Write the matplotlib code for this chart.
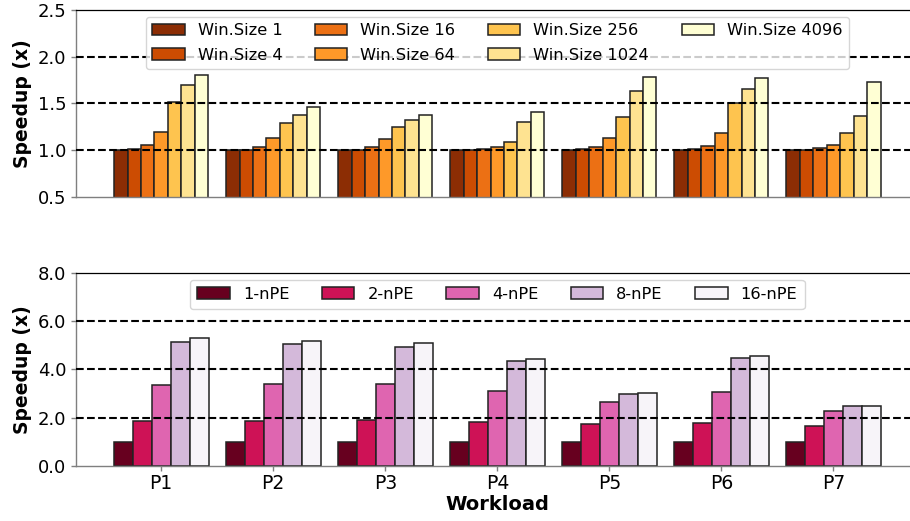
import matplotlib
matplotlib.use("Agg")
import matplotlib.pyplot as plt
import numpy as np

workloads = ["P1", "P2", "P3", "P4", "P5", "P6", "P7"]

# Speedup vs. window size
win_labels = ["Win.Size 1", "Win.Size 4", "Win.Size 16", "Win.Size 64",
              "Win.Size 256", "Win.Size 1024", "Win.Size 4096"]
win_speedup = [
    [1.00, 1.00, 1.00, 1.00, 1.00, 1.00, 1.00],   # Win.Size 1
    [1.01, 1.00, 1.00, 1.00, 1.01, 1.01, 1.00],   # Win.Size 4
    [1.06, 1.04, 1.03, 1.01, 1.04, 1.05, 1.02],   # Win.Size 16
    [1.20, 1.13, 1.12, 1.03, 1.13, 1.18, 1.06],   # Win.Size 64
    [1.52, 1.29, 1.25, 1.09, 1.36, 1.50, 1.18],   # Win.Size 256
    [1.70, 1.38, 1.32, 1.30, 1.63, 1.66, 1.37],   # Win.Size 1024
    [1.80, 1.46, 1.38, 1.41, 1.78, 1.77, 1.73],   # Win.Size 4096
]
win_colors = ["#8c2d04", "#cc4c02", "#ec7014", "#fe9929",
              "#fec44f", "#fee391", "#ffffd4"]

# Speedup vs. number of PEs
pe_labels = ["1-nPE", "2-nPE", "4-nPE", "8-nPE", "16-nPE"]
pe_speedup = [
    [1.00, 1.00, 1.00, 1.00, 1.00, 1.00, 1.00],   # 1-nPE
    [1.88, 1.88, 1.89, 1.81, 1.75, 1.79, 1.66],   # 2-nPE
    [3.35, 3.39, 3.39, 3.10, 2.65, 3.05, 2.26],   # 4-nPE
    [5.14, 5.06, 4.94, 4.36, 3.00, 4.47, 2.47],   # 8-nPE
    [5.31, 5.20, 5.09, 4.44, 3.03, 4.55, 2.47],   # 16-nPE
]
pe_colors = ["#67001f", "#ce1256", "#df65b0", "#d4b9da", "#f7f4f9"]

fig = plt.figure(figsize=(9.10, 5.21), dpi=100)
ax1 = fig.add_axes([0.0835, 0.6219, 0.926, 0.3589])
ax2 = fig.add_axes([0.0835, 0.1056, 0.926, 0.3704])

x = np.arange(len(workloads))
edge = "#222222"


def style_axes(ax):
    for side in ("left", "bottom"):
        ax.spines[side].set_color("#7f7f7f")
        ax.spines[side].set_linewidth(1.0)
    ax.spines["top"].set_color("black")
    ax.spines["top"].set_linewidth(0.9)
    ax.spines["right"].set_visible(False)
    ax.tick_params(axis="both", colors="#7f7f7f", labelcolor="black",
                   length=3.5, width=1.0)
    ax.tick_params(axis="y", labelsize=13)
    ax.set_xlim(-0.76, 6.76)


# top panel: window size sweep
w1 = 0.12
n1 = len(win_labels)
for i, (lab, vals, col) in enumerate(zip(win_labels, win_speedup, win_colors)):
    ax1.bar(x + (i - (n1 - 1) / 2) * w1, vals, width=w1, color=col,
            edgecolor=edge, linewidth=1.1, label=lab, zorder=2)
for yv in (1.0, 1.5, 2.0):
    ax1.axhline(yv, color="black", linestyle="--", linewidth=1.5, zorder=3)
style_axes(ax1)
ax1.set_ylim(0.5, 2.5)
ax1.set_yticks([0.5, 1.0, 1.5, 2.0, 2.5])
ax1.set_yticklabels(["0.5", "1.0", "1.5", "2.0", "2.5"])
ax1.set_xticks([])
ax1.set_ylabel("Speedup (x)", fontsize=13.5, fontweight="bold")
ax1.legend(loc="upper center", ncol=4, fontsize=11.7, framealpha=0.8,
           borderaxespad=0.4, labelspacing=0.6)

# bottom panel: PE count sweep
w2 = 0.17
n2 = len(pe_labels)
for i, (lab, vals, col) in enumerate(zip(pe_labels, pe_speedup, pe_colors)):
    ax2.bar(x + (i - (n2 - 1) / 2) * w2, vals, width=w2, color=col,
            edgecolor=edge, linewidth=1.1, label=lab, zorder=2)
for yv in (2.0, 4.0, 6.0):
    ax2.axhline(yv, color="black", linestyle="--", linewidth=1.5, zorder=3)
style_axes(ax2)
ax2.set_ylim(0, 8)
ax2.set_yticks([0, 2, 4, 6, 8])
ax2.set_yticklabels(["0.0", "2.0", "4.0", "6.0", "8.0"])
ax2.set_xticks(x)
ax2.set_xticklabels(workloads, fontsize=13.5)
ax2.tick_params(axis="x", pad=2.5)
ax2.set_ylabel("Speedup (x)", fontsize=13.5, fontweight="bold")
ax2.set_xlabel("Workload", fontsize=14, fontweight="bold", labelpad=1.5)
ax2.legend(loc="upper center", ncol=5, fontsize=11.7, framealpha=0.8,
           borderaxespad=0.4, borderpad=0.45)

fig.savefig("out.png", dpi=100)
